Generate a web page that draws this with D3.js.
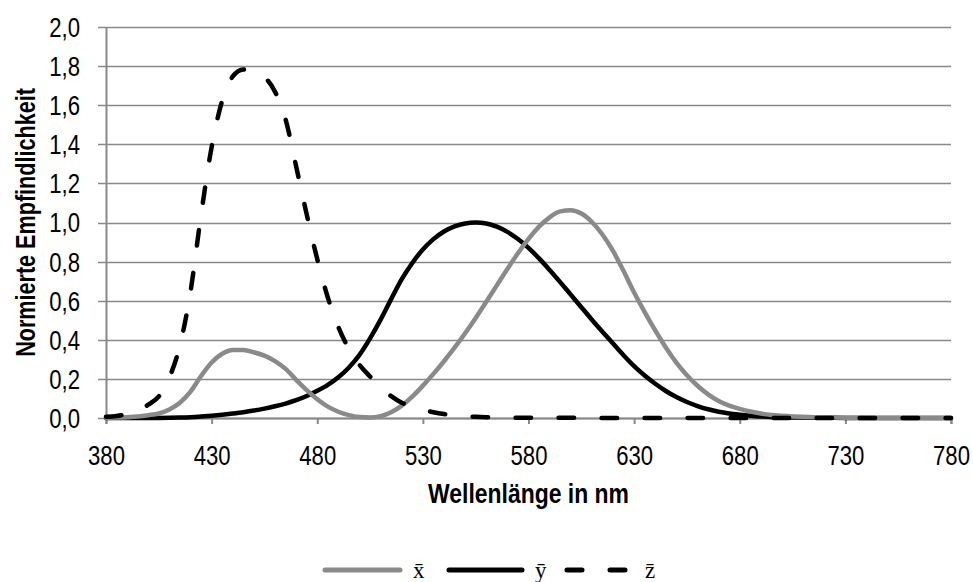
<!DOCTYPE html>
<html lang="de">
  <head>
    <meta charset="utf-8" />
    <script src="https://cdn.jsdelivr.net/npm/d3@7/dist/d3.min.js"></script>
    <style>
      body { margin: 0; background: #fff; }
      text { font-family: "Liberation Sans", Arial, sans-serif; }
    </style>
  </head>
  <body>
    <script>
      // Wellenlänge (nm) und normierte Empfindlichkeit, in 5-nm-Schritten
      const wavelengths = d3.range(380, 781, 5);
      const xBar = [
        0.0014, 0.0022, 0.0042, 0.0077, 0.0143, 0.0232, 0.0435, 0.0776, 0.1344, 0.2148,
        0.2839, 0.3285, 0.3483, 0.3481, 0.3362, 0.3187, 0.2908, 0.2511, 0.1954, 0.1421,
        0.0956, 0.0580, 0.0320, 0.0147, 0.0049, 0.0024, 0.0093, 0.0291, 0.0633, 0.1096,
        0.1655, 0.2257, 0.2904, 0.3597, 0.4334, 0.5121, 0.5945, 0.6784, 0.7621, 0.8425,
        0.9163, 0.9786, 1.0263, 1.0567, 1.0622, 1.0456, 1.0026, 0.9384, 0.8544, 0.7514,
        0.6424, 0.5419, 0.4479, 0.3608, 0.2835, 0.2187, 0.1649, 0.1212, 0.0874, 0.0636,
        0.0468, 0.0329, 0.0227, 0.0158, 0.0114, 0.0081, 0.0058, 0.0041, 0.0029, 0.0020,
        0.0014, 0.0010, 0.0007, 0.0005, 0.0003, 0.0002, 0.0002, 0.0001, 0.0001, 0.0001, 0.0000
      ];
      const yBar = [
        0.0000, 0.0001, 0.0001, 0.0002, 0.0004, 0.0006, 0.0012, 0.0022, 0.0040, 0.0073,
        0.0116, 0.0168, 0.0230, 0.0298, 0.0380, 0.0480, 0.0600, 0.0739, 0.0910, 0.1126,
        0.1390, 0.1693, 0.2080, 0.2586, 0.3230, 0.4073, 0.5030, 0.6082, 0.7100, 0.7932,
        0.8620, 0.9149, 0.9540, 0.9803, 0.9950, 1.0000, 0.9950, 0.9786, 0.9520, 0.9154,
        0.8700, 0.8163, 0.7570, 0.6949, 0.6310, 0.5668, 0.5030, 0.4412, 0.3810, 0.3210,
        0.2650, 0.2170, 0.1750, 0.1382, 0.1070, 0.0816, 0.0610, 0.0446, 0.0320, 0.0232,
        0.0170, 0.0119, 0.0082, 0.0057, 0.0041, 0.0029, 0.0021, 0.0015, 0.0010, 0.0007,
        0.0005, 0.0004, 0.0002, 0.0002, 0.0001, 0.0001, 0.0001, 0.0000, 0.0000, 0.0000, 0.0000
      ];
      const zBar = [
        0.0065, 0.0106, 0.0201, 0.0362, 0.0679, 0.1102, 0.2074, 0.3713, 0.6456, 1.0391,
        1.3856, 1.6230, 1.7471, 1.7826, 1.7721, 1.7441, 1.6692, 1.5281, 1.2876, 1.0419,
        0.8130, 0.6162, 0.4652, 0.3533, 0.2720, 0.2123, 0.1582, 0.1117, 0.0783, 0.0573,
        0.0422, 0.0298, 0.0203, 0.0134, 0.0088, 0.0058, 0.0039, 0.0028, 0.0021, 0.0018,
        0.0017, 0.0014, 0.0011, 0.0010, 0.0008, 0.0006, 0.0003, 0.0002, 0.0002, 0.0001,
        0.0001, 0.0000, 0.0000, 0.0000, 0.0000, 0.0000, 0.0000, 0.0000, 0.0000, 0.0000,
        0.0000, 0.0000, 0.0000, 0.0000, 0.0000, 0.0000, 0.0000, 0.0000, 0.0000, 0.0000,
        0.0000, 0.0000, 0.0000, 0.0000, 0.0000, 0.0000, 0.0000, 0.0000, 0.0000, 0.0000, 0.0000
      ];
      const xTicks = [380, 430, 480, 530, 580, 630, 680, 730, 780];
      const yTicks = [0, 0.2, 0.4, 0.6, 0.8, 1.0, 1.2, 1.4, 1.6, 1.8, 2.0];
      const seriesNames = ["x\u0304", "y\u0304", "z\u0304"];

      let w = 973;
      let h = 582;
      let margin = { left: 106, right: 22, top: 27, bottom: 164 };
      let narrow = 0.82; // squeeze Liberation Sans to look like a narrow face

      let svg = d3.select("body").append("svg").attr("width", w).attr("height", h);

      let x = d3.scaleLinear().domain([380, 780]).range([margin.left, w - margin.right]);
      let y = d3.scaleLinear().domain([0, 2]).range([h - margin.bottom, margin.top]);

      let gridColor = "#898989";
      let grayLine = "#8a8a8a";

      // horizontal gridlines
      svg.append("g")
        .selectAll("line")
        .data(yTicks)
        .join("line")
        .attr("x1", margin.left - 8)
        .attr("x2", w - margin.right)
        .attr("y1", (d) => Math.round(y(d)) + 0.5)
        .attr("y2", (d) => Math.round(y(d)) + 0.5)
        .attr("stroke", gridColor)
        .attr("stroke-width", 1.5);

      // y axis
      let yAxis = svg.append("g")
        .attr("transform", "translate(" + margin.left + ",0)")
        .call(d3.axisLeft(y).tickValues(yTicks).tickSize(0)
          .tickFormat((d) => d3.format(".1f")(d).replace(".", ",")));
      yAxis.select(".domain").attr("stroke", gridColor).attr("stroke-width", 2);
      yAxis.selectAll("text")
        .attr("font-size", 27)
        .attr("fill", "#000")
        .attr("dy", "0.35em")
        .attr("x", -26 / narrow)
        .attr("transform", "scale(" + narrow + ",1)");

      // x axis
      let xAxis = svg.append("g")
        .attr("transform", "translate(0," + y(0) + ")")
        .call(d3.axisBottom(x).tickValues(xTicks).tickSize(6).tickPadding(22).tickFormat(d3.format("d")));
      xAxis.select(".domain").attr("stroke", gridColor).attr("stroke-width", 2);
      xAxis.selectAll(".tick line").attr("stroke", gridColor).attr("stroke-width", 2);
      xAxis.selectAll("text")
        .attr("font-size", 27)
        .attr("fill", "#000")
        .attr("transform", "scale(" + narrow + ",1)");

      // axis titles
      svg.append("text")
        .attr("transform", "translate(" + (x(380) + x(780)) / 2 + ",503) scale(0.85,1)")
        .attr("text-anchor", "middle")
        .attr("font-size", 27)
        .attr("font-weight", "bold")
        .text("Wellenlänge in nm");

      svg.append("text")
        .attr("transform", "translate(35," + (y(0) + y(2)) / 2 + ") rotate(-90) scale(0.8,1)")
        .attr("text-anchor", "middle")
        .attr("font-size", 27)
        .attr("font-weight", "bold")
        .text("Normierte Empfindlichkeit");

      // curves
      let line = d3.line()
        .x((d, i) => x(wavelengths[i]))
        .y((d) => y(d))
        .curve(d3.curveMonotoneX);

      let styles = [
        { data: yBar, color: "#000", dash: null },
        { data: xBar, color: grayLine, dash: null },
        { data: zBar, color: "#000", dash: "15.5,27.5" }
      ];

      svg.append("g")
        .selectAll("path")
        .data(styles)
        .join("path")
        .attr("d", (d) => line(d.data))
        .attr("fill", "none")
        .attr("stroke", (d) => d.color)
        .attr("stroke-width", 4.5)
        .attr("stroke-linejoin", "round")
        .attr("stroke-linecap", "round")
        .attr("stroke-dasharray", (d) => d.dash);

      // legend
      let legendItems = [
        { name: seriesNames[0], color: grayLine, dash: null, x0: 325, x1: 400, tx: 413 },
        { name: seriesNames[1], color: "#000", dash: null, x0: 449, x1: 522, tx: 535 },
        { name: seriesNames[2], color: "#000", dash: "15,28", x0: 567, x1: 630, tx: 645 }
      ];
      let legend = svg.append("g");
      legend.selectAll("line")
        .data(legendItems)
        .join("line")
        .attr("x1", (d) => d.x0)
        .attr("x2", (d) => d.x1)
        .attr("y1", 570)
        .attr("y2", 570)
        .attr("stroke", (d) => d.color)
        .attr("stroke-width", 5)
        .attr("stroke-linecap", "round")
        .attr("stroke-dasharray", (d) => d.dash);
      legend.selectAll("text")
        .data(legendItems)
        .join("text")
        .attr("x", (d) => d.tx)
        .attr("y", 578)
        .attr("font-size", 23)
        .style("font-family", "'Liberation Serif', 'Times New Roman', serif")
        .text((d) => d.name);
    </script>
  </body>
</html>
